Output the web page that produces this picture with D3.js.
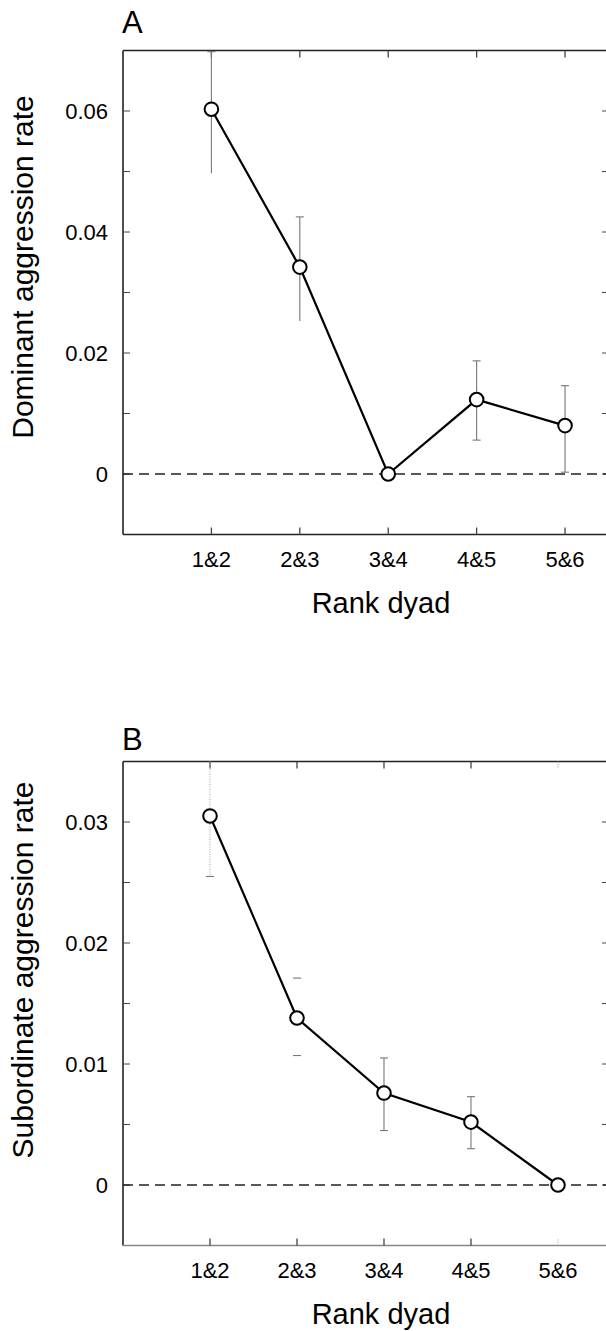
<!DOCTYPE html>
<html>
<head>
<meta charset="utf-8">
<script src="https://cdn.jsdelivr.net/npm/d3@7"></script>
<style>
  html, body { margin: 0; padding: 0; background: #fff; }
  svg { display: block; }
  text { font-family: "Liberation Sans", Arial, sans-serif; fill: #000; }
</style>
</head>
<body>
<svg id="chart" width="606" height="1331"></svg>
<script>
// Rank dyads along the x axis
const dyads = ["1&2", "2&3", "3&4", "4&5", "5&6"];

// Panel A: dominant aggression rate (mean, lower and upper error limits)
const domMean  = [0.0603, 0.0342, 0.0, 0.0123, 0.0080];
const domLower = [0.0497, 0.0253, 0.0, 0.0056, 0.0003];
const domUpper = [0.0698, 0.0425, 0.0, 0.0187, 0.0146];

// Panel B: subordinate aggression rate
const subMean  = [0.0305, 0.0138, 0.0076, 0.0052, 0.0];
const subLower = [0.0255, 0.0107, 0.0045, 0.0030, 0.0];
const subUpper = [0.0355, 0.0171, 0.0105, 0.0073, 0.0];

// Y-axis tick values
const domTicks = [0, 0.01, 0.02, 0.03, 0.04, 0.05, 0.06];
const domTickLabels = ["0", "", "0.02", "", "0.04", "", "0.06"];
const subTicks = [0, 0.005, 0.01, 0.015, 0.02, 0.025, 0.03];
const subTickLabels = ["0", "", "0.01", "", "0.02", "", "0.03"];

const svg = d3.select("#chart");

function drawPanel(cfg) {
  const g = svg.append("g");
  const left = 123, right = 608, top = cfg.top, bottom = cfg.top + 484;

  const x = d3.scaleLinear().domain([0, cfg.xMax]).range([left, right]);
  const y = d3.scaleLinear().domain(cfg.yDomain).range([bottom, top]);
  const xi = i => x(i + 1);

  // frame
  g.append("line").attr("x1", left).attr("x2", right).attr("y1", top).attr("y2", top)
    .attr("stroke", "#222").attr("stroke-width", 1.6);
  g.append("line").attr("x1", left).attr("x2", left).attr("y1", top).attr("y2", bottom)
    .attr("stroke", "#222").attr("stroke-width", 1.6);
  g.append("line").attr("x1", left).attr("x2", right).attr("y1", bottom).attr("y2", bottom)
    .attr("stroke", cfg.bottomColor).attr("stroke-width", 1.6);

  // y ticks (inward, both sides) and labels
  cfg.yTicks.forEach((t, k) => {
    const yy = y(t);
    g.append("line").attr("x1", left).attr("x2", left + 7).attr("y1", yy).attr("y2", yy)
      .attr("stroke", "#444").attr("stroke-width", 1);
    g.append("line").attr("x1", right - 6).attr("x2", right).attr("y1", yy).attr("y2", yy)
      .attr("stroke", "#444").attr("stroke-width", 1);
    if (cfg.yLabels[k]) {
      g.append("text").attr("x", 108).attr("y", yy + 8)
        .attr("text-anchor", "end").attr("font-size", 22).text(cfg.yLabels[k]);
    }
  });

  // x ticks (inward, top and bottom) and labels
  dyads.forEach((d, i) => {
    const xx = xi(i);
    const dotted = cfg.faintTick === i;
    [[bottom, bottom - 7], [top, top + 7]].forEach(([a, b]) => {
      g.append("line").attr("x1", xx).attr("x2", xx).attr("y1", a).attr("y2", b)
        .attr("stroke", dotted ? "#999" : "#444").attr("stroke-width", dotted ? 1 : 1.3)
        .attr("stroke-dasharray", dotted ? "1,1.5" : null);
    });
    g.append("text").attr("x", xx).attr("y", bottom + 32.5)
      .attr("text-anchor", "middle").attr("font-size", 22).text(d);
  });

  // zero reference line
  g.append("line").attr("x1", left).attr("x2", right).attr("y1", y(0)).attr("y2", y(0))
    .attr("stroke", "#222").attr("stroke-width", 1.3).attr("stroke-dasharray", "10,6");

  // error bars
  const clipTop = y.range()[1];
  cfg.mean.forEach((m, i) => {
    const st = cfg.errStyle[i];
    if (st === "none") return;
    const xx = xi(i);
    const yTop = Math.max(y(cfg.upper[i]), clipTop);
    const yBot = y(cfg.lower[i]);
    if (st !== "capsOnly") {
      g.append("line").attr("x1", xx).attr("x2", xx).attr("y1", yTop).attr("y2", yBot)
        .attr("stroke", st === "dotted" ? "#aaa" : "#777").attr("stroke-width", 1.1)
        .attr("stroke-dasharray", st === "dotted" ? "1,1.5" : null);
    }
    if (cfg.capTop[i]) {
      g.append("line").attr("x1", xx - 4).attr("x2", xx + 4).attr("y1", yTop).attr("y2", yTop)
        .attr("stroke", "#777").attr("stroke-width", 1.1);
    }
    if (cfg.capBottom[i]) {
      g.append("line").attr("x1", xx - 4).attr("x2", xx + 4).attr("y1", yBot).attr("y2", yBot)
        .attr("stroke", "#777").attr("stroke-width", 1.1);
    }
  });

  // connecting line
  const line = d3.line().x((d, i) => xi(i)).y(d => y(d));
  g.append("path").datum(cfg.mean).attr("d", line)
    .attr("fill", "none").attr("stroke", "#000").attr("stroke-width", 2.2);

  // markers
  g.selectAll("circle.pt").data(cfg.mean).enter().append("circle")
    .attr("class", "pt")
    .attr("cx", (d, i) => xi(i)).attr("cy", d => y(d)).attr("r", 6.8)
    .attr("fill", "#fff").attr("stroke", "#000").attr("stroke-width", 2);

  // axis titles and panel letter
  g.append("text").attr("transform", `translate(33,${cfg.yTitleY}) rotate(-90)`)
    .attr("text-anchor", "middle").attr("font-size", 30).text(cfg.yTitle);
  g.append("text").attr("x", 381).attr("y", bottom + 78)
    .attr("text-anchor", "middle").attr("font-size", 29).text("Rank dyad");
  g.append("text").attr("x", 122).attr("y", top - cfg.letterGap)
    .attr("font-size", 31).text(cfg.letter);
}

drawPanel({
  top: 50.5, xMax: 5.486, yDomain: [-0.01, 0.07], bottomColor: "#222",
  yTicks: domTicks, yLabels: domTickLabels,
  mean: domMean, lower: domLower, upper: domUpper,
  errStyle: ["solid", "solid", "none", "solid", "solid"],
  capTop: [true, true, false, true, true],
  capBottom: [false, false, false, true, true],
  faintTick: -1,
  yTitle: "Dominant aggression rate", yTitleY: 267, letter: "A", letterGap: 17.5
});

drawPanel({
  top: 761.5, xMax: 5.575, yDomain: [-0.005, 0.035], bottomColor: "#888",
  yTicks: subTicks, yLabels: subTickLabels,
  mean: subMean, lower: subLower, upper: subUpper,
  errStyle: ["dotted", "capsOnly", "solid", "solid", "none"],
  capTop: [false, true, true, true, false],
  capBottom: [true, true, true, true, false],
  faintTick: 4,
  yTitle: "Subordinate aggression rate", yTitleY: 970, letter: "B", letterGap: 11.5
});
</script>
</body>
</html>
